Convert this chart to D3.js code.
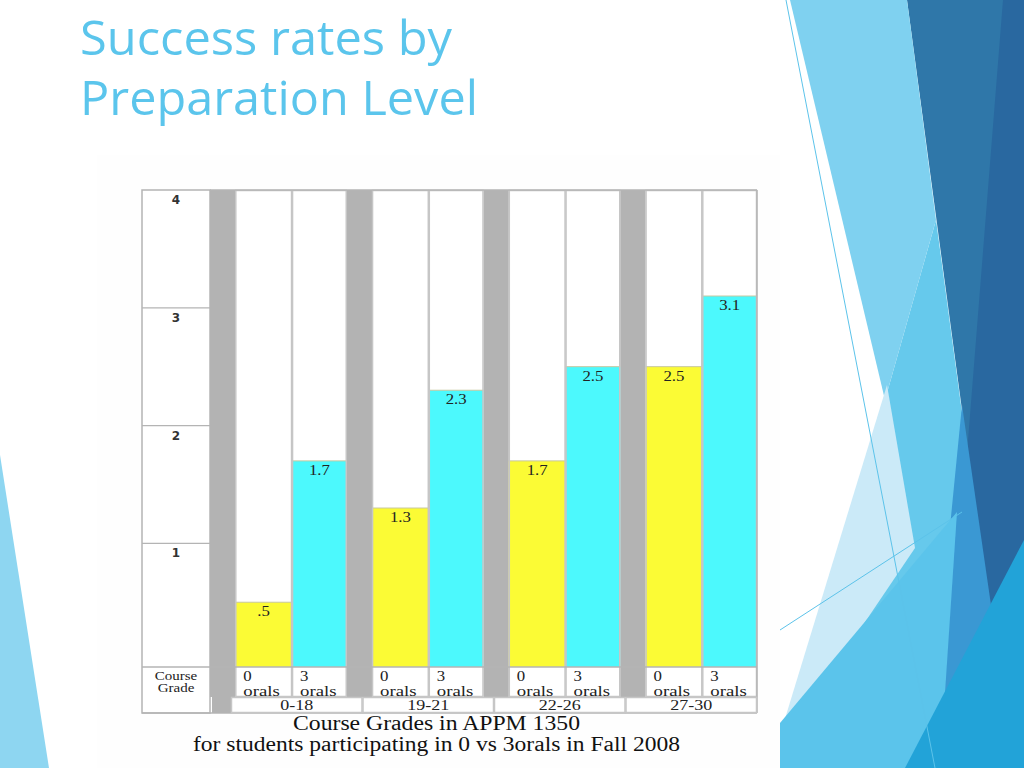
<!DOCTYPE html>
<html>
<head>
<meta charset="utf-8">
<script src="https://cdn.jsdelivr.net/npm/d3@7"></script>
<style>
  html,body{margin:0;padding:0;background:#ffffff;}
  svg{display:block;}
</style>
</head>
<body>
<svg id="chart" width="1024" height="768"></svg>
<script>
// ---------------- data ----------------
const groups = ["0-18", "19-21", "22-26", "27-30"];
const seriesKeys = ["0 orals", "3 orals"];
const seriesNums = ["0", "3"];
const zeroOrals = [0.5, 1.3, 1.7, 2.5];
const threeOrals = [1.7, 2.3, 2.5, 3.1];
const valueLabels0 = [".5", "1.3", "1.7", "2.5"];
const valueLabels3 = ["1.7", "2.3", "2.5", "3.1"];
const yTicks = [1, 2, 3, 4];
const titleLines = ["Success rates by", "Preparation Level"];
const captionLines = ["Course Grades in APPM 1350", "for students participating in 0 vs 3orals in Fall 2008"];
const rowHeader = ["Course", "Grade"];

const svg = d3.select("#chart");

// stretch serif texts horizontally like the scanned picture
function stretch(sel, k) {
  sel.each(function () {
    const w = this.getComputedTextLength();
    this.setAttribute("textLength", (w * k).toFixed(1));
    this.setAttribute("lengthAdjust", "spacingAndGlyphs");
  });
}

// ---------------- background decorations ----------------
const deco = svg.append("g");
const polys = [
  {c:"#8ed6f1", p:[[0,455],[49,768],[0,768]]},
  {c:"#2f77a9", p:[[907,0],[1024,0],[1024,768],[1010,768]]},
  {c:"#2968a0", p:[[1003,0],[1024,0],[1024,768],[942,768]]},
  {c:"#66c9ec", p:[[885,400],[936,220],[1010,768],[850,768]]},
  {c:"#7fd1f0", p:[[790,0],[907,0],[936,220],[885,400]]},
  {c:"#cbeaf8", p:[[887,385],[915,548],[780,748],[780,735]]},
  {c:"#3a98d3", p:[[962,405],[992,612],[930,730]]},
  {c:"#5bc4eb", p:[[780,723],[957,512],[940,768],[780,768]]},
  {c:"#22a3d8", p:[[1024,540],[1024,768],[905,768]]}
];
deco.selectAll("polygon").data(polys).join("polygon")
  .attr("points", d => d.p.map(q => q.join(",")).join(" "))
  .attr("fill", d => d.c);
deco.append("line").attr("x1",786).attr("y1",0).attr("x2",935).attr("y2",768)
  .attr("stroke","#5cc3ea").attr("stroke-width",1);
deco.append("line").attr("x1",780).attr("y1",630).attr("x2",962).attr("y2",512)
  .attr("stroke","#5cc3ea").attr("stroke-width",1);

// embedded chart picture background
svg.append("rect").attr("x",97).attr("y",155).attr("width",683).attr("height",613).attr("fill","#fefefe");

// ---------------- title ----------------
const titleW = [372, 398];
svg.append("g").selectAll("text").data(titleLines).join("text")
  .attr("x", 80).attr("y", (d,i) => 55 + i*60)
  .attr("font-family", "'Open Sans', 'DejaVu Sans', sans-serif")
  .attr("font-size", 48)
  .attr("fill", "#5bc5ec")
  .attr("textLength", (d,i) => titleW[i])
  .attr("lengthAdjust", "spacingAndGlyphs")
  .text(d => d);

// ---------------- chart table ----------------
const L = { left:142, axisRight:210, right:757, top:190, plotBottom:667, labelBottom:697, tableBottom:713 };
const y = d3.scaleLinear().domain([-0.05, 4]).range([L.plotBottom, L.top]);
const xG = d3.scaleBand().domain(groups).range([L.axisRight, L.right]).padding(0);
const xIn = d3.scaleLinear().domain([0, 1]).range([0, xG.bandwidth()]);
const sepFrac = 0.185, bar0Frac = 0.415;
const cols = [];
groups.forEach((g, i) => {
  const g0 = xG(g);
  cols.push({type:"sep", x0: g0, x1: g0 + xIn(sepFrac), gi:i});
  cols.push({type:"b0", x0: g0 + xIn(sepFrac), x1: g0 + xIn(sepFrac + bar0Frac), gi:i, v: zeroOrals[i], lab: valueLabels0[i], num: seriesNums[0], color:"#fbfb35"});
  cols.push({type:"b1", x0: g0 + xIn(sepFrac + bar0Frac), x1: g0 + xG.bandwidth(), gi:i, v: threeOrals[i], lab: valueLabels3[i], num: seriesNums[1], color:"#4cf9fd"});
});
const border = "#b4b4b4";
const serif = "'Liberation Serif', 'Times New Roman', serif";
const tbl = svg.append("g");

tbl.append("rect").attr("x", L.left).attr("y", L.top).attr("width", L.right-L.left).attr("height", L.tableBottom-L.top)
  .attr("fill", "#ffffff");

tbl.selectAll("rect.sep").data(cols.filter(c => c.type==="sep")).join("rect")
  .attr("class","sep")
  .attr("x", d => d.x0).attr("y", L.top).attr("width", d => d.x1 - d.x0).attr("height", L.labelBottom - L.top)
  .attr("fill", "#b3b3b3");

const bars = cols.filter(c => c.type !== "sep");
tbl.selectAll("rect.bar").data(bars).join("rect")
  .attr("class","bar")
  .attr("x", d => d.x0).attr("y", d => y(d.v)).attr("width", d => d.x1 - d.x0).attr("height", d => y(-0.05) - y(d.v))
  .attr("fill", d => d.color);
tbl.selectAll("line.btop").data(bars).join("line")
  .attr("class","btop")
  .attr("x1", d => d.x0).attr("x2", d => d.x1).attr("y1", d => y(d.v)).attr("y2", d => y(d.v))
  .attr("stroke", "#c8c8a0").attr("stroke-width", 1);

tbl.selectAll("rect.cell").data(bars).join("rect")
  .attr("class","cell")
  .attr("x", d => d.x0 + 0.5).attr("y", L.top + 0.5).attr("width", d => d.x1 - d.x0 - 1).attr("height", L.labelBottom - L.top - 1)
  .attr("fill", "none").attr("stroke", "#c6c6c6").attr("stroke-width", 1.5);

tbl.selectAll("text.val").data(bars).join("text")
  .attr("class","val")
  .attr("x", d => (d.x0 + d.x1)/2).attr("y", d => y(d.v) + 14)
  .attr("text-anchor", "middle")
  .attr("font-family", serif).attr("font-size", 14)
  .attr("fill", "#222")
  .text(d => d.lab)
  .call(stretch, 1.2);

tbl.append("rect").attr("x", L.left).attr("y", L.top).attr("width", L.axisRight-L.left).attr("height", L.tableBottom-L.top)
  .attr("fill","none").attr("stroke", border).attr("stroke-width", 1.5);
tbl.selectAll("line.tick").data(yTicks.filter(t => t < 4)).join("line")
  .attr("class","tick")
  .attr("x1", L.left).attr("x2", L.axisRight).attr("y1", d => y(d)).attr("y2", d => y(d))
  .attr("stroke", border).attr("stroke-width", 1.2);
tbl.selectAll("text.tick").data(yTicks).join("text")
  .attr("class","tick")
  .attr("x", (L.left+L.axisRight)/2).attr("y", d => y(d) + 14)
  .attr("text-anchor","middle")
  .attr("font-family","'DejaVu Sans', sans-serif").attr("font-size", 12).attr("font-weight","bold")
  .attr("fill","#333")
  .text(d => d);

tbl.append("line").attr("x1", L.left).attr("x2", L.right).attr("y1", L.plotBottom).attr("y2", L.plotBottom)
  .attr("stroke", border).attr("stroke-width", 1.5);
tbl.append("line").attr("x1", L.axisRight).attr("x2", L.right).attr("y1", L.top).attr("y2", L.top)
  .attr("stroke", border).attr("stroke-width", 1.5);
tbl.append("line").attr("x1", L.right).attr("x2", L.right).attr("y1", L.top).attr("y2", L.tableBottom)
  .attr("stroke", border).attr("stroke-width", 1.5);
tbl.append("line").attr("x1", L.left).attr("x2", L.right).attr("y1", L.tableBottom).attr("y2", L.tableBottom)
  .attr("stroke", border).attr("stroke-width", 1.5);

tbl.selectAll("text.rh").data(rowHeader).join("text")
  .attr("class","rh")
  .attr("x", (L.left+L.axisRight)/2).attr("y", (d,i) => 680 + i*12)
  .attr("text-anchor","middle")
  .attr("font-family", serif).attr("font-size", 12)
  .attr("fill","#222").text(d => d)
  .call(stretch, 1.25);

const sub = tbl.selectAll("g.sub").data(bars).join("g").attr("class","sub");
sub.append("text").attr("x", d => d.x0 + 8).attr("y", 681)
  .attr("font-family", serif).attr("font-size", 14).attr("fill","#222")
  .text(d => d.num)
  .call(stretch, 1.2);
sub.append("text").attr("x", d => d.x0 + 8).attr("y", 696)
  .attr("font-family", serif).attr("font-size", 15).attr("fill","#222")
  .text("orals")
  .call(stretch, 1.25);

const gx = d3.scaleBand().domain(groups).range([231, L.right]).padding(0);
tbl.append("rect").attr("x", L.axisRight + 2).attr("y", L.labelBottom).attr("width", 231 - L.axisRight - 2).attr("height", L.tableBottom - L.labelBottom)
  .attr("fill", "#b3b3b3");
tbl.selectAll("rect.gcell").data(groups).join("rect")
  .attr("class","gcell")
  .attr("x", d => gx(d) + 0.5).attr("y", L.labelBottom + 0.5).attr("width", gx.bandwidth() - 1).attr("height", L.tableBottom - L.labelBottom - 1)
  .attr("fill","#ffffff").attr("stroke","#c6c6c6").attr("stroke-width", 1.5);
tbl.selectAll("text.glab").data(groups).join("text")
  .attr("class","glab")
  .attr("x", d => gx(d) + gx.bandwidth()/2).attr("y", 710)
  .attr("text-anchor","middle")
  .attr("font-family", serif).attr("font-size", 15).attr("fill","#222")
  .text(d => d)
  .call(stretch, 1.2);

const capX = [[293, 287], [193, 487]];
svg.append("g").selectAll("text").data(captionLines).join("text")
  .attr("x", (d,i) => capX[i][0]).attr("y", (d,i) => 730 + i*21)
  .attr("font-family", serif).attr("font-size", 20).attr("fill","#111")
  .attr("textLength", (d,i) => capX[i][1]).attr("lengthAdjust","spacingAndGlyphs")
  .text(d => d);
</script>
</body>
</html>
